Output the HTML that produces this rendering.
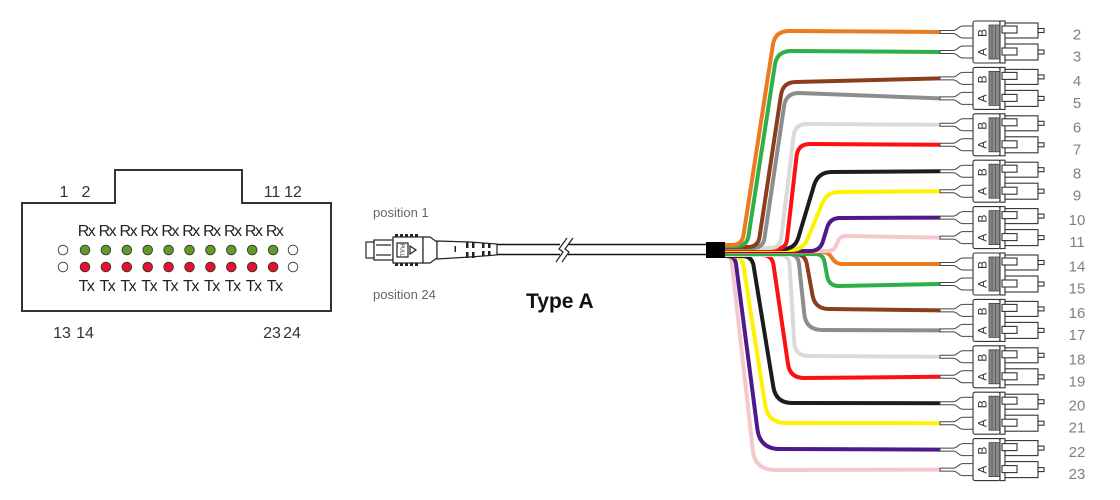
<!DOCTYPE html>
<html>
<head>
<meta charset="utf-8">
<style>
html,body{margin:0;padding:0;background:#fff;}
body{width:1120px;height:500px;overflow:hidden;}
svg{display:block;}
text{font-family:"Liberation Sans",Arial,sans-serif;}
.w{fill:none;stroke-width:4;stroke-linecap:butt;stroke-linejoin:round;}
.bt{fill:#fff;stroke:#444;stroke-width:1;}
.hs{fill:#fff;stroke:#333;stroke-width:1.1;}
.gr{fill:#8a8a8a;stroke:#444;stroke-width:0.8;}
.gl{stroke:#555;stroke-width:0.8;}
.ba{font-size:12px;fill:#333;text-anchor:middle;}
.lb{font-size:15px;fill:#808080;text-anchor:middle;}
.rx{font-size:16px;fill:#222;text-anchor:middle;letter-spacing:-1.5px;}
.nm{font-size:16px;fill:#333;text-anchor:middle;}
</style>
</head>
<body>
<svg width="1120" height="500" viewBox="0 0 1120 500" xmlns="http://www.w3.org/2000/svg">

<!-- Left MPO face -->
<path d="M22,203 L115,203 L115,170 L242,170 L242,203 L331,203 L331,311 L22,311 Z" fill="none" stroke="#333" stroke-width="2"/>
<text class="nm" x="64" y="197">1</text>
<text class="nm" x="86" y="197">2</text>
<text class="nm" x="272" y="197">11</text>
<text class="nm" x="293" y="197">12</text>
<text class="nm" x="62" y="338">13</text>
<text class="nm" x="85" y="338">14</text>
<text class="nm" x="272" y="338">23</text>
<text class="nm" x="292" y="338">24</text>

<g>
<text class="rx" x="86" y="236">Rx</text>
<text class="rx" x="106.9" y="236">Rx</text>
<text class="rx" x="127.8" y="236">Rx</text>
<text class="rx" x="148.7" y="236">Rx</text>
<text class="rx" x="169.6" y="236">Rx</text>
<text class="rx" x="190.5" y="236">Rx</text>
<text class="rx" x="211.4" y="236">Rx</text>
<text class="rx" x="232.3" y="236">Rx</text>
<text class="rx" x="253.2" y="236">Rx</text>
<text class="rx" x="274.1" y="236">Rx</text>
<text class="rx" x="86" y="291">Tx</text>
<text class="rx" x="106.9" y="291">Tx</text>
<text class="rx" x="127.8" y="291">Tx</text>
<text class="rx" x="148.7" y="291">Tx</text>
<text class="rx" x="169.6" y="291">Tx</text>
<text class="rx" x="190.5" y="291">Tx</text>
<text class="rx" x="211.4" y="291">Tx</text>
<text class="rx" x="232.3" y="291">Tx</text>
<text class="rx" x="253.2" y="291">Tx</text>
<text class="rx" x="274.1" y="291">Tx</text>
</g>
<g stroke="#333" stroke-width="0.9">
<circle cx="63" cy="250" r="4.8" fill="#fff"/>
<circle cx="63" cy="267" r="4.8" fill="#fff"/>
<circle cx="293" cy="250" r="4.8" fill="#fff"/>
<circle cx="293" cy="267" r="4.8" fill="#fff"/>
<g fill="#62992a">
<circle cx="85" cy="250" r="4.8"/><circle cx="105.9" cy="250" r="4.8"/><circle cx="126.8" cy="250" r="4.8"/><circle cx="147.7" cy="250" r="4.8"/><circle cx="168.6" cy="250" r="4.8"/><circle cx="189.5" cy="250" r="4.8"/><circle cx="210.4" cy="250" r="4.8"/><circle cx="231.3" cy="250" r="4.8"/><circle cx="252.2" cy="250" r="4.8"/><circle cx="273.1" cy="250" r="4.8"/>
</g>
<g fill="#e8112d">
<circle cx="85" cy="267" r="4.8"/><circle cx="105.9" cy="267" r="4.8"/><circle cx="126.8" cy="267" r="4.8"/><circle cx="147.7" cy="267" r="4.8"/><circle cx="168.6" cy="267" r="4.8"/><circle cx="189.5" cy="267" r="4.8"/><circle cx="210.4" cy="267" r="4.8"/><circle cx="231.3" cy="267" r="4.8"/><circle cx="252.2" cy="267" r="4.8"/><circle cx="273.1" cy="267" r="4.8"/>
</g>
</g>

<!-- Middle labels -->
<text x="373" y="217" font-size="13" fill="#666">position 1</text>
<text x="373" y="299" font-size="13" fill="#666">position 24</text>
<text x="526" y="308" font-size="21" font-weight="bold" fill="#111">Type A</text>

<!-- MPO connector -->
<g stroke="#222" stroke-width="1.2" fill="#fff">
<rect x="366" y="242" width="8" height="16"/>
<rect x="374" y="240" width="19" height="20"/>
<line x1="376" y1="245" x2="391" y2="245"/>
<line x1="376" y1="255" x2="391" y2="255"/>
<rect x="393" y="237" width="30" height="26"/>
<path d="M423,237 L430,237 L437,242 L437,258 L430,263 L423,263 Z"/>
<path d="M437,241 L470,242 L497,244 L497,255 L470,257 L437,259 Z"/>
<rect x="397" y="243" width="11" height="14"/>
<polygon points="410,246 416,250 410,254" fill="none"/>
</g>
<g fill="#222">
<rect x="395" y="234" width="3" height="3"/><rect x="400" y="234" width="3" height="3"/><rect x="405" y="234" width="3" height="3"/><rect x="410" y="234" width="3" height="3"/><rect x="415" y="234" width="3" height="3"/>
<rect x="395" y="263" width="3" height="3"/><rect x="400" y="263" width="3" height="3"/><rect x="405" y="263" width="3" height="3"/><rect x="410" y="263" width="3" height="3"/><rect x="415" y="263" width="3" height="3"/>
<rect x="454.5" y="246" width="1.5" height="6"/>
<rect x="466" y="242" width="2.5" height="6"/><rect x="466" y="252" width="2.5" height="6"/>
<rect x="472" y="242" width="2.5" height="6"/><rect x="472" y="252" width="2.5" height="6"/>
<rect x="482" y="243" width="2.5" height="5"/><rect x="482" y="251" width="2.5" height="5"/>
<rect x="488" y="243" width="2.5" height="5"/><rect x="488" y="251" width="2.5" height="5"/>
</g>
<text transform="translate(400.5,250) rotate(90)" font-size="5" fill="#222" text-anchor="middle">PULL</text>

<!-- cable -->
<line x1="497" y1="244.5" x2="706" y2="244.5" stroke="#111" stroke-width="1.6"/>
<line x1="497" y1="254.5" x2="706" y2="254.5" stroke="#111" stroke-width="1.6"/>
<rect x="560" y="242" width="8" height="15" fill="#fff"/>
<path d="M556,262 L563,252 L559,249 L567,238 M562,262 L569,252 L565,249 L573,238" fill="none" stroke="#222" stroke-width="1.2"/>

<!-- fan-out wires: bottom group -->
<path class="w" stroke="#f4c7cb" d="M725,256 Q731,256 731.7,262 L752.8,450.1 Q755,470 775,470 L940,469.6"/>
<path class="w" stroke="#4e1a8a" d="M725,256 L727,256 Q735,256 736,263.9 L757.4,429.2 Q760,449 780,449 L940,449.6"/>
<path class="w" stroke="#fff200" d="M725,256 L732,256 Q742,256 743.5,265.9 L765.2,405.2 Q768,423 786,423 L940,423.2"/>
<path class="w" stroke="#1c1c1c" d="M725,256 L742,256 Q752,256 753.6,265.9 L773.4,387.2 Q776,403 792,403 L940,403.2"/>
<path class="w" stroke="#ff1010" d="M725,255 L762,255 Q772,255 773.5,264.9 L788,364.1 Q790,378 804,378 L940,376.8"/>
<path class="w" stroke="#dadada" d="M725,255 L779,255 Q789,255 789.6,265 L794.2,342 Q795,356 809,356 L940,356.8"/>
<path class="w" stroke="#8d8d8d" d="M725,254 L788,254 Q798,254 799,263.9 L804.3,314.1 Q806,330 822,330 L940,330.4"/>
<path class="w" stroke="#8b3e1c" d="M725,254 L795,254 Q805,254 806.8,263.8 L812.5,295.2 Q815,309 829,309 L940,310.4"/>
<path class="w" stroke="#2eaf47" d="M725,254 L815,254 Q823,254 824.5,261.9 L827.2,276.2 Q829,286 839,286 L940,284"/>
<path class="w" stroke="#ec7a1e" d="M725,252 L822,252 Q828,252 831.3,257 L832.7,259 Q836,264 842,264 L940,264"/>

<!-- fan-out wires: top group -->
<path class="w" stroke="#f4c7cb" d="M725,251 L828,251 Q834,251 836.2,245.4 L837.8,241.6 Q840,236 846,236 L940,237.6"/>
<path class="w" stroke="#4e1a8a" d="M725,251 L810,251 Q820,251 822.9,241.4 L827.1,227.6 Q830,218 840,218 L940,217.6"/>
<path class="w" stroke="#fff200" d="M725,250 L791,250 Q803,250 807.6,238.9 L822.4,203.1 Q827,192 839,192 L940,191.2"/>
<path class="w" stroke="#1c1c1c" d="M725,249 L783,249 Q795,249 798.4,237.5 L814,185.4 Q818,172 832,172 L940,171.2"/>
<path class="w" stroke="#ff1010" d="M725,249 L776,249 Q786,249 787.1,239.1 L796.6,155.9 Q798,144 810,144 L940,144.8"/>
<path class="w" stroke="#dadada" d="M725,248 L770,248 Q780,248 781.2,238.1 L793.6,135.9 Q795,124 807,124 L940,124.8"/>
<path class="w" stroke="#8d8d8d" d="M725,248 L753,248 Q763,248 764.5,238.1 L784.1,105.9 Q786,93 799,93 L940,98.4"/>
<path class="w" stroke="#8b3e1c" d="M725,247 L748,247 Q758,247 759.5,237.1 L781,94.9 Q783,82 796,82 L940,78.4"/>
<path class="w" stroke="#2eaf47" d="M725,246 L737,246 Q747,246 748.5,236.1 L774.9,64.8 Q777,51 791,51 L940,52"/>
<path class="w" stroke="#ec7a1e" d="M725,245 L732,245 Q742,245 743.5,235.1 L772.9,44.8 Q775,31 789,31 L940,32"/>

<!-- breakout box -->
<rect x="706" y="242" width="19" height="16" fill="#000"/>

<!-- LC duplex connectors -->
<g transform="translate(940,42)">
<path class="bt" d="M0,-11.5H13C18,-11.5 18,-16 23,-16H33V-4H23C18,-4 18,-8.5 13,-8.5H0Z"/>
<path class="bt" d="M0,8.5H13C18,8.5 18,4 23,4H33V16H23C18,16 18,11.5 13,11.5H0Z"/>
<rect class="hs" x="33" y="-21" width="27" height="42" rx="2"/>
<rect class="gr" x="49" y="-17" width="11" height="34"/>
<path class="gl" d="M52,-17V17M55.5,-17V17"/>
<rect class="hs" x="60" y="-21" width="5" height="42"/>
<rect class="hs" x="65" y="-19" width="33" height="15"/>
<rect class="hs" x="65" y="2" width="33" height="16"/>
<rect class="hs" x="62" y="-16" width="15" height="7"/>
<rect class="hs" x="62" y="6" width="15" height="7"/>
<rect class="hs" x="98" y="-13.5" width="6" height="4"/>
<rect class="hs" x="98" y="8" width="6" height="4"/>
<text class="ba" transform="translate(46.5,-9) rotate(-90)">B</text>
<text class="ba" transform="translate(46.5,10) rotate(-90)">A</text>
</g>
<g transform="translate(940,88.4)">
<path class="bt" d="M0,-11.5H13C18,-11.5 18,-16 23,-16H33V-4H23C18,-4 18,-8.5 13,-8.5H0Z"/>
<path class="bt" d="M0,8.5H13C18,8.5 18,4 23,4H33V16H23C18,16 18,11.5 13,11.5H0Z"/>
<rect class="hs" x="33" y="-21" width="27" height="42" rx="2"/>
<rect class="gr" x="49" y="-17" width="11" height="34"/>
<path class="gl" d="M52,-17V17M55.5,-17V17"/>
<rect class="hs" x="60" y="-21" width="5" height="42"/>
<rect class="hs" x="65" y="-19" width="33" height="15"/>
<rect class="hs" x="65" y="2" width="33" height="16"/>
<rect class="hs" x="62" y="-16" width="15" height="7"/>
<rect class="hs" x="62" y="6" width="15" height="7"/>
<rect class="hs" x="98" y="-13.5" width="6" height="4"/>
<rect class="hs" x="98" y="8" width="6" height="4"/>
<text class="ba" transform="translate(46.5,-9) rotate(-90)">B</text>
<text class="ba" transform="translate(46.5,10) rotate(-90)">A</text>
</g>
<g transform="translate(940,134.8)">
<path class="bt" d="M0,-11.5H13C18,-11.5 18,-16 23,-16H33V-4H23C18,-4 18,-8.5 13,-8.5H0Z"/>
<path class="bt" d="M0,8.5H13C18,8.5 18,4 23,4H33V16H23C18,16 18,11.5 13,11.5H0Z"/>
<rect class="hs" x="33" y="-21" width="27" height="42" rx="2"/>
<rect class="gr" x="49" y="-17" width="11" height="34"/>
<path class="gl" d="M52,-17V17M55.5,-17V17"/>
<rect class="hs" x="60" y="-21" width="5" height="42"/>
<rect class="hs" x="65" y="-19" width="33" height="15"/>
<rect class="hs" x="65" y="2" width="33" height="16"/>
<rect class="hs" x="62" y="-16" width="15" height="7"/>
<rect class="hs" x="62" y="6" width="15" height="7"/>
<rect class="hs" x="98" y="-13.5" width="6" height="4"/>
<rect class="hs" x="98" y="8" width="6" height="4"/>
<text class="ba" transform="translate(46.5,-9) rotate(-90)">B</text>
<text class="ba" transform="translate(46.5,10) rotate(-90)">A</text>
</g>
<g transform="translate(940,181.2)">
<path class="bt" d="M0,-11.5H13C18,-11.5 18,-16 23,-16H33V-4H23C18,-4 18,-8.5 13,-8.5H0Z"/>
<path class="bt" d="M0,8.5H13C18,8.5 18,4 23,4H33V16H23C18,16 18,11.5 13,11.5H0Z"/>
<rect class="hs" x="33" y="-21" width="27" height="42" rx="2"/>
<rect class="gr" x="49" y="-17" width="11" height="34"/>
<path class="gl" d="M52,-17V17M55.5,-17V17"/>
<rect class="hs" x="60" y="-21" width="5" height="42"/>
<rect class="hs" x="65" y="-19" width="33" height="15"/>
<rect class="hs" x="65" y="2" width="33" height="16"/>
<rect class="hs" x="62" y="-16" width="15" height="7"/>
<rect class="hs" x="62" y="6" width="15" height="7"/>
<rect class="hs" x="98" y="-13.5" width="6" height="4"/>
<rect class="hs" x="98" y="8" width="6" height="4"/>
<text class="ba" transform="translate(46.5,-9) rotate(-90)">B</text>
<text class="ba" transform="translate(46.5,10) rotate(-90)">A</text>
</g>
<g transform="translate(940,227.6)">
<path class="bt" d="M0,-11.5H13C18,-11.5 18,-16 23,-16H33V-4H23C18,-4 18,-8.5 13,-8.5H0Z"/>
<path class="bt" d="M0,8.5H13C18,8.5 18,4 23,4H33V16H23C18,16 18,11.5 13,11.5H0Z"/>
<rect class="hs" x="33" y="-21" width="27" height="42" rx="2"/>
<rect class="gr" x="49" y="-17" width="11" height="34"/>
<path class="gl" d="M52,-17V17M55.5,-17V17"/>
<rect class="hs" x="60" y="-21" width="5" height="42"/>
<rect class="hs" x="65" y="-19" width="33" height="15"/>
<rect class="hs" x="65" y="2" width="33" height="16"/>
<rect class="hs" x="62" y="-16" width="15" height="7"/>
<rect class="hs" x="62" y="6" width="15" height="7"/>
<rect class="hs" x="98" y="-13.5" width="6" height="4"/>
<rect class="hs" x="98" y="8" width="6" height="4"/>
<text class="ba" transform="translate(46.5,-9) rotate(-90)">B</text>
<text class="ba" transform="translate(46.5,10) rotate(-90)">A</text>
</g>
<g transform="translate(940,274)">
<path class="bt" d="M0,-11.5H13C18,-11.5 18,-16 23,-16H33V-4H23C18,-4 18,-8.5 13,-8.5H0Z"/>
<path class="bt" d="M0,8.5H13C18,8.5 18,4 23,4H33V16H23C18,16 18,11.5 13,11.5H0Z"/>
<rect class="hs" x="33" y="-21" width="27" height="42" rx="2"/>
<rect class="gr" x="49" y="-17" width="11" height="34"/>
<path class="gl" d="M52,-17V17M55.5,-17V17"/>
<rect class="hs" x="60" y="-21" width="5" height="42"/>
<rect class="hs" x="65" y="-19" width="33" height="15"/>
<rect class="hs" x="65" y="2" width="33" height="16"/>
<rect class="hs" x="62" y="-16" width="15" height="7"/>
<rect class="hs" x="62" y="6" width="15" height="7"/>
<rect class="hs" x="98" y="-13.5" width="6" height="4"/>
<rect class="hs" x="98" y="8" width="6" height="4"/>
<text class="ba" transform="translate(46.5,-9) rotate(-90)">B</text>
<text class="ba" transform="translate(46.5,10) rotate(-90)">A</text>
</g>
<g transform="translate(940,320.4)">
<path class="bt" d="M0,-11.5H13C18,-11.5 18,-16 23,-16H33V-4H23C18,-4 18,-8.5 13,-8.5H0Z"/>
<path class="bt" d="M0,8.5H13C18,8.5 18,4 23,4H33V16H23C18,16 18,11.5 13,11.5H0Z"/>
<rect class="hs" x="33" y="-21" width="27" height="42" rx="2"/>
<rect class="gr" x="49" y="-17" width="11" height="34"/>
<path class="gl" d="M52,-17V17M55.5,-17V17"/>
<rect class="hs" x="60" y="-21" width="5" height="42"/>
<rect class="hs" x="65" y="-19" width="33" height="15"/>
<rect class="hs" x="65" y="2" width="33" height="16"/>
<rect class="hs" x="62" y="-16" width="15" height="7"/>
<rect class="hs" x="62" y="6" width="15" height="7"/>
<rect class="hs" x="98" y="-13.5" width="6" height="4"/>
<rect class="hs" x="98" y="8" width="6" height="4"/>
<text class="ba" transform="translate(46.5,-9) rotate(-90)">B</text>
<text class="ba" transform="translate(46.5,10) rotate(-90)">A</text>
</g>
<g transform="translate(940,366.8)">
<path class="bt" d="M0,-11.5H13C18,-11.5 18,-16 23,-16H33V-4H23C18,-4 18,-8.5 13,-8.5H0Z"/>
<path class="bt" d="M0,8.5H13C18,8.5 18,4 23,4H33V16H23C18,16 18,11.5 13,11.5H0Z"/>
<rect class="hs" x="33" y="-21" width="27" height="42" rx="2"/>
<rect class="gr" x="49" y="-17" width="11" height="34"/>
<path class="gl" d="M52,-17V17M55.5,-17V17"/>
<rect class="hs" x="60" y="-21" width="5" height="42"/>
<rect class="hs" x="65" y="-19" width="33" height="15"/>
<rect class="hs" x="65" y="2" width="33" height="16"/>
<rect class="hs" x="62" y="-16" width="15" height="7"/>
<rect class="hs" x="62" y="6" width="15" height="7"/>
<rect class="hs" x="98" y="-13.5" width="6" height="4"/>
<rect class="hs" x="98" y="8" width="6" height="4"/>
<text class="ba" transform="translate(46.5,-9) rotate(-90)">B</text>
<text class="ba" transform="translate(46.5,10) rotate(-90)">A</text>
</g>
<g transform="translate(940,413.2)">
<path class="bt" d="M0,-11.5H13C18,-11.5 18,-16 23,-16H33V-4H23C18,-4 18,-8.5 13,-8.5H0Z"/>
<path class="bt" d="M0,8.5H13C18,8.5 18,4 23,4H33V16H23C18,16 18,11.5 13,11.5H0Z"/>
<rect class="hs" x="33" y="-21" width="27" height="42" rx="2"/>
<rect class="gr" x="49" y="-17" width="11" height="34"/>
<path class="gl" d="M52,-17V17M55.5,-17V17"/>
<rect class="hs" x="60" y="-21" width="5" height="42"/>
<rect class="hs" x="65" y="-19" width="33" height="15"/>
<rect class="hs" x="65" y="2" width="33" height="16"/>
<rect class="hs" x="62" y="-16" width="15" height="7"/>
<rect class="hs" x="62" y="6" width="15" height="7"/>
<rect class="hs" x="98" y="-13.5" width="6" height="4"/>
<rect class="hs" x="98" y="8" width="6" height="4"/>
<text class="ba" transform="translate(46.5,-9) rotate(-90)">B</text>
<text class="ba" transform="translate(46.5,10) rotate(-90)">A</text>
</g>
<g transform="translate(940,459.6)">
<path class="bt" d="M0,-11.5H13C18,-11.5 18,-16 23,-16H33V-4H23C18,-4 18,-8.5 13,-8.5H0Z"/>
<path class="bt" d="M0,8.5H13C18,8.5 18,4 23,4H33V16H23C18,16 18,11.5 13,11.5H0Z"/>
<rect class="hs" x="33" y="-21" width="27" height="42" rx="2"/>
<rect class="gr" x="49" y="-17" width="11" height="34"/>
<path class="gl" d="M52,-17V17M55.5,-17V17"/>
<rect class="hs" x="60" y="-21" width="5" height="42"/>
<rect class="hs" x="65" y="-19" width="33" height="15"/>
<rect class="hs" x="65" y="2" width="33" height="16"/>
<rect class="hs" x="62" y="-16" width="15" height="7"/>
<rect class="hs" x="62" y="6" width="15" height="7"/>
<rect class="hs" x="98" y="-13.5" width="6" height="4"/>
<rect class="hs" x="98" y="8" width="6" height="4"/>
<text class="ba" transform="translate(46.5,-9) rotate(-90)">B</text>
<text class="ba" transform="translate(46.5,10) rotate(-90)">A</text>
</g>

<!-- right labels -->
<text class="lb" x="1077" y="39.5">2</text>
<text class="lb" x="1077" y="61.5">3</text>
<text class="lb" x="1077" y="85.9">4</text>
<text class="lb" x="1077" y="107.9">5</text>
<text class="lb" x="1077" y="132.3">6</text>
<text class="lb" x="1077" y="154.3">7</text>
<text class="lb" x="1077" y="178.7">8</text>
<text class="lb" x="1077" y="200.7">9</text>
<text class="lb" x="1077" y="225.1">10</text>
<text class="lb" x="1077" y="247.1">11</text>
<text class="lb" x="1077" y="271.5">14</text>
<text class="lb" x="1077" y="293.5">15</text>
<text class="lb" x="1077" y="317.9">16</text>
<text class="lb" x="1077" y="339.9">17</text>
<text class="lb" x="1077" y="364.3">18</text>
<text class="lb" x="1077" y="386.3">19</text>
<text class="lb" x="1077" y="410.7">20</text>
<text class="lb" x="1077" y="432.7">21</text>
<text class="lb" x="1077" y="457.1">22</text>
<text class="lb" x="1077" y="479.1">23</text>
</svg>
</body>
</html>
